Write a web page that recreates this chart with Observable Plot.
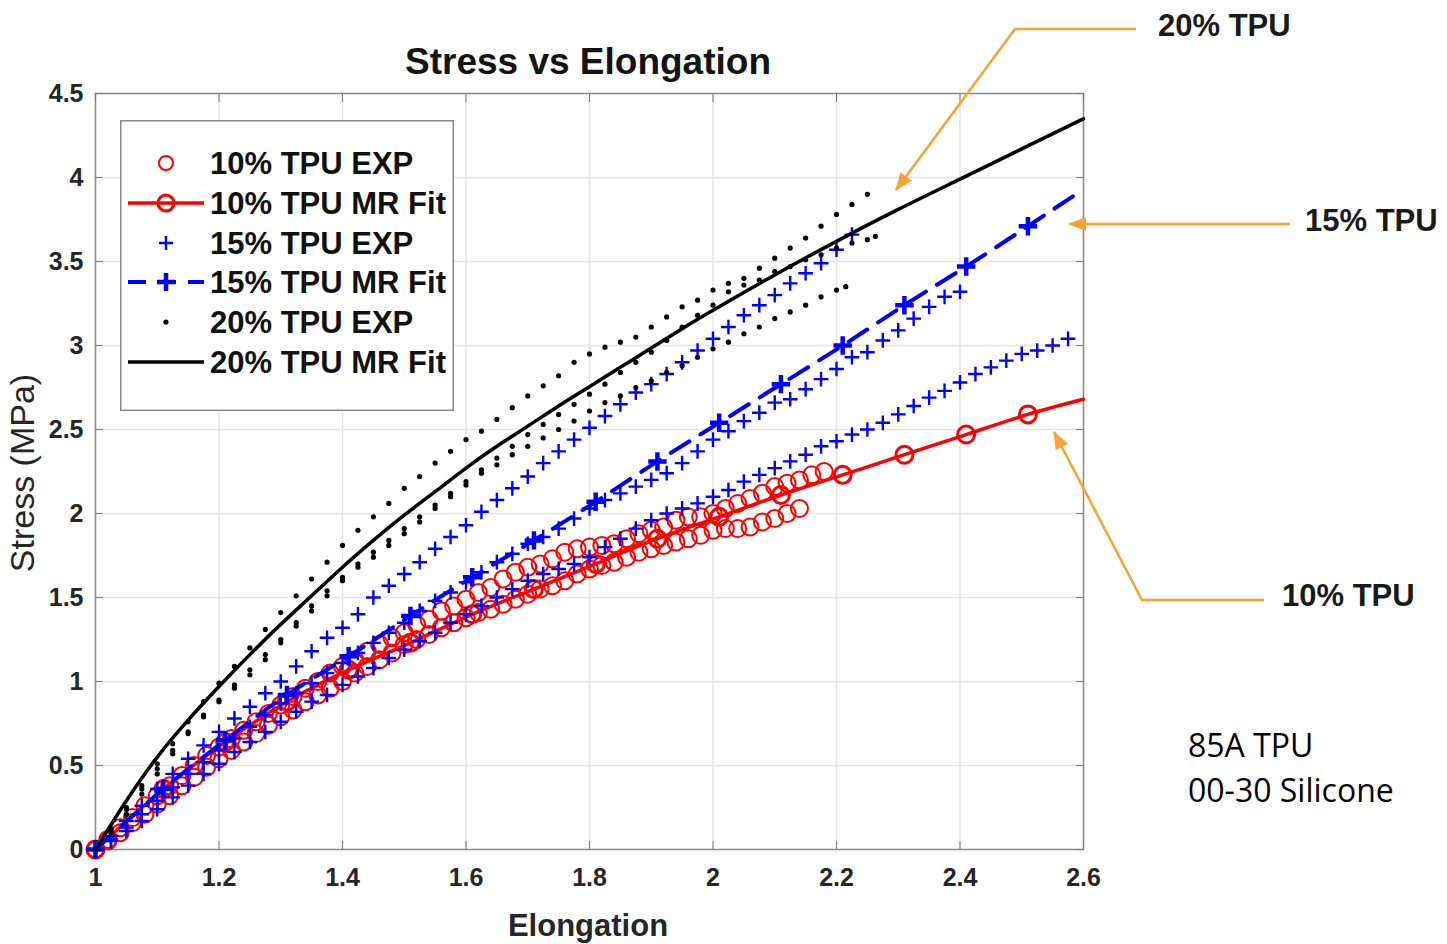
<!DOCTYPE html>
<html><head><meta charset="utf-8">
<script src="https://cdn.jsdelivr.net/npm/d3@7"></script>
<script src="https://cdn.jsdelivr.net/npm/@observablehq/plot@0.6"></script>
<style>
html,body{margin:0;padding:0;background:#fff;}
#wrap{position:relative;width:1447px;height:944px;overflow:hidden;font-family:"Liberation Sans",Arial,sans-serif;background:#fff;}
#chart{position:absolute;left:0;top:0;}
#chart svg{overflow:visible;}
.t{position:absolute;white-space:nowrap;line-height:1;}
</style></head><body>
<div id="wrap">
  <div id="chart"></div>
  <div class="t" style="left:588px;top:61px;transform:translate(-50%,-50%);font-size:37px;font-weight:bold;color:#141414;">Stress vs Elongation</div>
  <div class="t" style="left:588px;top:925px;transform:translate(-50%,-50%);font-size:31px;font-weight:bold;color:#262626;">Elongation</div>
  <div class="t" style="left:22px;top:473px;transform:translate(-50%,-50%) rotate(-90deg);font-size:34px;color:#262626;">Stress (MPa)</div>
  <svg id="legend" width="334" height="291" style="position:absolute;left:120px;top:120px;"></svg>
  <svg id="anno" width="1447" height="944" style="position:absolute;left:0;top:0;pointer-events:none;">
    <defs>
      <marker id="ah" viewBox="0 0 18 14" refX="17" refY="7" markerWidth="18" markerHeight="14" markerUnits="userSpaceOnUse" orient="auto">
        <path d="M0,0 L18,7 L0,14 z" fill="#f5a331"/>
      </marker>
    </defs>
    <polyline points="1136,29 1015,29 896,190" fill="none" stroke="#f5a331" stroke-width="2.5" marker-end="url(#ah)"/>
    <polyline points="1290,224 1069,224" fill="none" stroke="#f5a331" stroke-width="2.5" marker-end="url(#ah)"/>
    <polyline points="1264,600 1142,600 1054,432" fill="none" stroke="#f5a331" stroke-width="2.5" marker-end="url(#ah)"/>
  </svg>
  <div class="t" style="left:1158px;top:25px;transform:translateY(-50%);font-size:31px;font-weight:bold;color:#1a1a1a;">20% TPU</div>
  <div class="t" style="left:1305px;top:220px;transform:translateY(-50%);font-size:31px;font-weight:bold;color:#1a1a1a;">15% TPU</div>
  <div class="t" style="left:1282px;top:595px;transform:translateY(-50%);font-size:31px;font-weight:bold;color:#1a1a1a;">10% TPU</div>
  <div class="t" style="left:1188px;top:745px;transform:translateY(-50%);font-size:32px;font-family:'Open Sans',sans-serif;color:#000;">85A TPU</div>
  <div class="t" style="left:1188px;top:790px;transform:translateY(-50%);font-size:32px;font-family:'Open Sans',sans-serif;color:#000;">00-30 Silicone</div>
</div>
<script>
// ---------- data ----------
const xTicks = [1, 1.2, 1.4, 1.6, 1.8, 2, 2.2, 2.4, 2.6];
const yTicks = [0, 0.5, 1, 1.5, 2, 2.5, 3, 3.5, 4, 4.5];

// 10% TPU experimental (two specimens)
const exp10a = [[1.00,0],[1.02,0.06],[1.04,0.13],[1.06,0.19],[1.08,0.26],[1.10,0.32],[1.12,0.38],[1.14,0.44],[1.16,0.50],[1.18,0.56],[1.20,0.61],[1.22,0.66],[1.24,0.71],[1.26,0.76],[1.28,0.81],[1.30,0.86],[1.32,0.91],[1.34,0.96],[1.36,1.00],[1.38,1.05],[1.40,1.09],[1.42,1.13],[1.44,1.18],[1.46,1.22],[1.48,1.26],[1.50,1.29],[1.52,1.34],[1.54,1.37],[1.56,1.42],[1.58,1.45],[1.60,1.49],[1.62,1.53],[1.64,1.56],[1.66,1.61],[1.68,1.65],[1.70,1.68],[1.72,1.70],[1.74,1.73],[1.76,1.77],[1.78,1.79],[1.80,1.80],[1.82,1.81],[1.84,1.82],[1.86,1.85],[1.88,1.88],[1.90,1.90],[1.92,1.92],[1.94,1.96],[1.96,1.98],[1.98,1.98],[2.00,2.00],[2.02,2.03],[2.04,2.06],[2.06,2.09],[2.08,2.12],[2.10,2.16],[2.12,2.18],[2.14,2.20],[2.16,2.23],[2.18,2.25]];
const exp10b = [[1.00,0],[1.02,0.05],[1.04,0.10],[1.06,0.16],[1.08,0.21],[1.10,0.27],[1.12,0.32],[1.14,0.38],[1.16,0.43],[1.18,0.49],[1.20,0.54],[1.22,0.59],[1.24,0.64],[1.26,0.69],[1.28,0.74],[1.30,0.79],[1.32,0.83],[1.34,0.88],[1.36,0.92],[1.38,0.96],[1.40,1.00],[1.42,1.05],[1.44,1.09],[1.46,1.13],[1.48,1.17],[1.50,1.22],[1.52,1.25],[1.54,1.28],[1.56,1.32],[1.58,1.35],[1.60,1.38],[1.62,1.41],[1.64,1.43],[1.66,1.46],[1.68,1.49],[1.70,1.52],[1.72,1.55],[1.74,1.57],[1.76,1.60],[1.78,1.64],[1.80,1.67],[1.82,1.69],[1.84,1.71],[1.86,1.74],[1.88,1.77],[1.90,1.79],[1.92,1.81],[1.94,1.83],[1.96,1.85],[1.98,1.87],[2.00,1.90],[2.02,1.91],[2.04,1.91],[2.06,1.92],[2.08,1.95],[2.10,1.97],[2.12,2.00],[2.14,2.03]];
// 10% TPU Mooney-Rivlin fit (points carry the circle markers, last point ends the curve)
const fit10 = [[1.00,0],[1.11,0.36],[1.21,0.64],[1.31,0.88],[1.41,1.07],[1.51,1.23],[1.61,1.40],[1.71,1.55],[1.81,1.70],[1.91,1.85],[2.01,1.98],[2.11,2.11],[2.21,2.23],[2.31,2.35],[2.41,2.47],[2.51,2.59],[2.60,2.68]];

// 15% TPU experimental (three specimens)
const exp15a = [[1.000,0],[1.025,0.08],[1.050,0.17],[1.075,0.26],[1.100,0.36],[1.125,0.45],[1.150,0.54],[1.175,0.62],[1.200,0.70],[1.225,0.78],[1.250,0.85],[1.275,0.93],[1.300,1.00],[1.325,1.09],[1.350,1.18],[1.375,1.26],[1.400,1.32],[1.425,1.40],[1.450,1.50],[1.475,1.57],[1.500,1.64],[1.525,1.71],[1.550,1.79],[1.575,1.86],[1.600,1.93],[1.625,2.01],[1.650,2.08],[1.675,2.15],[1.700,2.22],[1.725,2.30],[1.750,2.37],[1.775,2.44],[1.800,2.51],[1.825,2.58],[1.850,2.65],[1.875,2.72],[1.900,2.77],[1.925,2.83],[1.950,2.90],[1.975,2.97],[2.000,3.04],[2.025,3.11],[2.050,3.18],[2.075,3.24],[2.100,3.30],[2.125,3.37],[2.150,3.43],[2.175,3.49],[2.200,3.57],[2.225,3.66]];
const exp15b = [[1.000,0],[1.025,0.06],[1.050,0.13],[1.075,0.21],[1.100,0.29],[1.125,0.37],[1.150,0.45],[1.175,0.52],[1.200,0.59],[1.225,0.66],[1.250,0.73],[1.275,0.80],[1.300,0.87],[1.325,0.93],[1.350,0.99],[1.375,1.05],[1.400,1.11],[1.425,1.17],[1.450,1.23],[1.475,1.29],[1.500,1.35],[1.525,1.42],[1.550,1.48],[1.575,1.53],[1.600,1.59],[1.625,1.65],[1.650,1.71],[1.675,1.76],[1.700,1.82],[1.725,1.86],[1.750,1.91],[1.775,1.97],[1.800,2.03],[1.825,2.08],[1.850,2.12],[1.875,2.16],[1.900,2.20],[1.925,2.24],[1.950,2.30],[1.975,2.37],[2.000,2.44],[2.025,2.49],[2.050,2.55],[2.075,2.60],[2.100,2.66],[2.125,2.68],[2.150,2.74],[2.175,2.80],[2.200,2.86],[2.225,2.93],[2.250,2.96],[2.275,3.03],[2.300,3.09],[2.325,3.16],[2.350,3.23],[2.375,3.29],[2.400,3.32]];
const exp15c = [[1.000,0],[1.025,0.05],[1.050,0.11],[1.075,0.17],[1.100,0.24],[1.125,0.31],[1.150,0.38],[1.175,0.45],[1.200,0.51],[1.225,0.58],[1.250,0.64],[1.275,0.70],[1.300,0.76],[1.325,0.82],[1.350,0.88],[1.375,0.92],[1.400,0.98],[1.425,1.03],[1.450,1.08],[1.475,1.14],[1.500,1.19],[1.525,1.24],[1.550,1.29],[1.575,1.35],[1.600,1.40],[1.625,1.45],[1.650,1.50],[1.675,1.55],[1.700,1.60],[1.725,1.64],[1.750,1.67],[1.775,1.70],[1.800,1.74],[1.825,1.80],[1.850,1.85],[1.875,1.91],[1.900,1.96],[1.925,2.00],[1.950,2.03],[1.975,2.06],[2.000,2.10],[2.025,2.14],[2.050,2.19],[2.075,2.23],[2.100,2.27],[2.125,2.31],[2.150,2.35],[2.175,2.40],[2.200,2.43],[2.225,2.47],[2.250,2.50],[2.275,2.54],[2.300,2.59],[2.325,2.64],[2.350,2.69],[2.375,2.73],[2.400,2.78],[2.425,2.83],[2.450,2.87],[2.475,2.91],[2.500,2.95],[2.525,2.97],[2.550,3.00],[2.575,3.04]];
// 15% TPU Mooney-Rivlin fit
const fit15 = [[1.00,0],[1.11,0.36],[1.21,0.65],[1.31,0.92],[1.41,1.15],[1.51,1.39],[1.61,1.62],[1.71,1.84],[1.81,2.07],[1.91,2.31],[2.01,2.54],[2.11,2.77],[2.21,3.00],[2.31,3.24],[2.41,3.47],[2.51,3.71],[2.60,3.93]];

// 20% TPU experimental (three specimens)
const exp20a = [[1.000,0],[1.025,0.12],[1.050,0.25],[1.075,0.38],[1.100,0.51],[1.125,0.63],[1.150,0.76],[1.175,0.88],[1.200,0.99],[1.225,1.09],[1.250,1.20],[1.275,1.31],[1.300,1.41],[1.325,1.51],[1.350,1.61],[1.375,1.71],[1.400,1.81],[1.425,1.90],[1.450,1.98],[1.475,2.06],[1.500,2.15],[1.525,2.22],[1.550,2.30],[1.575,2.37],[1.600,2.44],[1.625,2.49],[1.650,2.56],[1.675,2.63],[1.700,2.70],[1.725,2.76],[1.750,2.82],[1.775,2.90],[1.800,2.95],[1.825,2.99],[1.850,3.02],[1.875,3.05],[1.900,3.11],[1.925,3.17],[1.950,3.23],[1.975,3.27],[2.000,3.33],[2.025,3.37],[2.050,3.40],[2.075,3.46],[2.100,3.52],[2.125,3.58],[2.150,3.64],[2.175,3.71],[2.200,3.78],[2.225,3.84],[2.250,3.90]];
const exp20b = [[1.000,0],[1.025,0.12],[1.050,0.24],[1.075,0.36],[1.100,0.48],[1.125,0.59],[1.150,0.70],[1.175,0.80],[1.200,0.89],[1.225,0.98],[1.250,1.07],[1.275,1.16],[1.300,1.25],[1.325,1.35],[1.350,1.45],[1.375,1.54],[1.400,1.62],[1.425,1.70],[1.450,1.77],[1.475,1.84],[1.500,1.91],[1.525,1.98],[1.550,2.05],[1.575,2.12],[1.600,2.19],[1.625,2.26],[1.650,2.33],[1.675,2.40],[1.700,2.47],[1.725,2.53],[1.750,2.59],[1.775,2.65],[1.800,2.71],[1.825,2.77],[1.850,2.84],[1.875,2.90],[1.900,2.96],[1.925,3.03],[1.950,3.11],[1.975,3.18],[2.000,3.24],[2.025,3.32],[2.050,3.36],[2.075,3.39],[2.100,3.44],[2.125,3.47],[2.150,3.51],[2.175,3.54],[2.200,3.58],[2.225,3.61],[2.250,3.63],[2.263,3.65]];
const exp20c = [[1.000,0],[1.025,0.10],[1.050,0.21],[1.075,0.33],[1.100,0.45],[1.125,0.57],[1.150,0.69],[1.175,0.79],[1.200,0.88],[1.225,0.96],[1.250,1.04],[1.275,1.13],[1.300,1.23],[1.325,1.33],[1.350,1.42],[1.375,1.51],[1.400,1.60],[1.425,1.68],[1.450,1.74],[1.475,1.81],[1.500,1.88],[1.525,1.95],[1.550,2.03],[1.575,2.10],[1.600,2.17],[1.625,2.24],[1.650,2.29],[1.675,2.35],[1.700,2.40],[1.725,2.45],[1.750,2.50],[1.775,2.55],[1.800,2.61],[1.825,2.66],[1.850,2.70],[1.875,2.75],[1.900,2.79],[1.925,2.84],[1.950,2.88],[1.975,2.93],[2.000,2.98],[2.025,3.02],[2.050,3.07],[2.075,3.11],[2.100,3.16],[2.125,3.20],[2.150,3.24],[2.175,3.29],[2.200,3.33],[2.215,3.35]];
// 20% TPU Mooney-Rivlin fit
const fit20 = [[1.0,0],[1.05,0.29],[1.1,0.55],[1.15,0.77],[1.2,0.97],[1.25,1.16],[1.3,1.34],[1.35,1.51],[1.4,1.68],[1.45,1.84],[1.5,1.99],[1.55,2.13],[1.6,2.27],[1.65,2.40],[1.7,2.52],[1.75,2.64],[1.8,2.755],[1.85,2.87],[1.9,2.985],[1.95,3.10],[2.0,3.21],[2.1,3.42],[2.2,3.62],[2.3,3.81],[2.4,3.99],[2.5,4.17],[2.6,4.35]];

const legendLabels = ["10% TPU EXP", "10% TPU MR Fit", "15% TPU EXP", "15% TPU MR Fit", "20% TPU EXP", "20% TPU MR Fit"];

// ---------- chart ----------
const RED = "#ff0000", BLUE = "#0000ff", BLACK = "#000000";
const X = d => d[0], Y = d => d[1];
const exp10 = exp10a.concat(exp10b);
const exp15 = exp15a.concat(exp15b, exp15c);
const exp20 = exp20a.concat(exp20b, exp20c);
const markers = arr => arr.slice(0, -1);

const chart = Plot.plot({
  width: 1447, height: 944,
  marginLeft: 95, marginRight: 364, marginTop: 93, marginBottom: 95,
  style: {fontFamily: "'Liberation Sans', Arial, sans-serif", background: "transparent", overflow: "visible"},
  x: {domain: [1, 2.6]},
  y: {domain: [0, 4.5]},
  marks: [
    Plot.gridX(xTicks, {stroke: "#e4e4e4", strokeOpacity: 1, strokeWidth: 1.5}),
    Plot.gridY(yTicks, {stroke: "#e4e4e4", strokeOpacity: 1, strokeWidth: 1.5}),
    Plot.frame({stroke: "#8c8c8c", strokeWidth: 1.5}),
    Plot.axisX(xTicks, {anchor: "bottom", tickSize: -8, tickPadding: 27, fontSize: 25, fontWeight: "bold", stroke: "#7a7a7a", fill: "#262626", tickFormat: d => String(d), label: null}),
    Plot.axisX(xTicks, {anchor: "top", tickSize: -8, stroke: "#7a7a7a", tickFormat: () => "", label: null}),
    Plot.axisY(yTicks, {anchor: "left", tickSize: -8, tickPadding: 20, fontSize: 25, fontWeight: "bold", stroke: "#7a7a7a", fill: "#262626", tickFormat: d => String(d), label: null}),
    Plot.axisY(yTicks, {anchor: "right", tickSize: -8, stroke: "#7a7a7a", tickFormat: () => "", label: null}),
    // 10% TPU
    Plot.dot(exp10, {x: X, y: Y, r: 8.5, stroke: RED, strokeWidth: 2, fill: "none"}),
    Plot.line(fit10, {x: X, y: Y, stroke: RED, strokeWidth: 3.5, curve: "natural"}),
    Plot.dot(markers(fit10), {x: X, y: Y, r: 8.5, stroke: RED, strokeWidth: 3, fill: "none"}),
    // 15% TPU
    Plot.dot(exp15, {x: X, y: Y, symbol: "plus", r: 4.8, stroke: BLUE, strokeWidth: 2.4}),
    Plot.line(fit15, {x: X, y: Y, stroke: BLUE, strokeWidth: 4, strokeDasharray: "22,13", curve: "natural"}),
    Plot.dot(markers(fit15), {x: X, y: Y, symbol: "plus", r: 6, stroke: BLUE, strokeWidth: 4.5}),
    // 20% TPU
    Plot.dot(exp20, {x: X, y: Y, r: 2.6, fill: BLACK, stroke: null}),
    Plot.line(fit20, {x: X, y: Y, stroke: BLACK, strokeWidth: 3.5, curve: "natural"})
  ]
});
document.getElementById("chart").append(chart);

// ---------- legend ----------
const lg = d3.select("#legend");
lg.append("rect").attr("x", 0.75).attr("y", 0.75).attr("width", 332.5).attr("height", 289.5)
  .attr("fill", "#fff").attr("stroke", "#8a8a8a").attr("stroke-width", 1.5);
const rowY = [43, 83, 123, 162, 202, 242];
const sx = 46;
const g = lg.append("g");
g.append("circle").attr("cx", sx).attr("cy", rowY[0]).attr("r", 7).attr("fill", "none").attr("stroke", RED).attr("stroke-width", 2);
g.append("line").attr("x1", 8).attr("x2", 84).attr("y1", rowY[1]).attr("y2", rowY[1]).attr("stroke", RED).attr("stroke-width", 3.5);
g.append("circle").attr("cx", sx).attr("cy", rowY[1]).attr("r", 8).attr("fill", "none").attr("stroke", RED).attr("stroke-width", 3);
const plus = (cx, cy, h, w) => g.append("path").attr("d", `M${cx-h},${cy}H${cx+h}M${cx},${cy-h}V${cy+h}`).attr("stroke", BLUE).attr("stroke-width", w).attr("fill", "none");
plus(sx, rowY[2], 7, 2.4);
g.append("line").attr("x1", 8).attr("x2", 84).attr("y1", rowY[3]).attr("y2", rowY[3]).attr("stroke", BLUE).attr("stroke-width", 4).attr("stroke-dasharray", "18,12");
plus(sx, rowY[3], 9, 4.5);
g.append("circle").attr("cx", sx).attr("cy", rowY[4]).attr("r", 2.6).attr("fill", BLACK);
g.append("line").attr("x1", 8).attr("x2", 84).attr("y1", rowY[5]).attr("y2", rowY[5]).attr("stroke", BLACK).attr("stroke-width", 3.5);
legendLabels.forEach((t, i) => {
  lg.append("text").attr("x", 90).attr("y", rowY[i] + 11).text(t)
    .attr("font-family", "'Liberation Sans', Arial, sans-serif").attr("font-weight", "bold")
    .attr("font-size", 31).attr("fill", "#111");
});
</script>
</body></html>
